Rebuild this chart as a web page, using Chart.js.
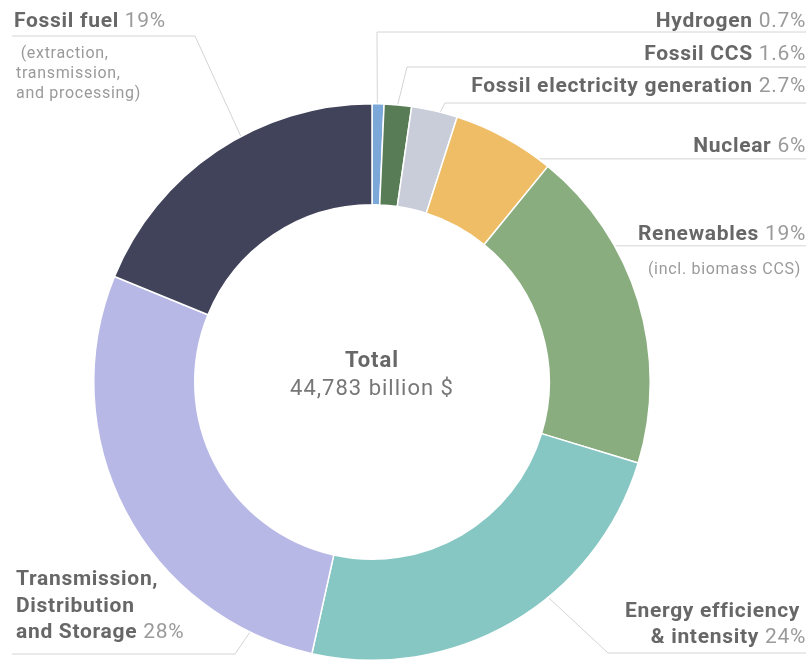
<!DOCTYPE html>
<html>
<head>
<meta charset="utf-8">
<script src="https://cdn.jsdelivr.net/npm/chart.js@4.4.1/dist/chart.umd.min.js"></script>
<style>
  html, body { margin: 0; padding: 0; background: #fff; }
  #wrap { position: relative; width: 812px; height: 664px; }
</style>
</head>
<body>
<div id="wrap"><canvas id="chart"></canvas></div>
<script>
// Data (share of total investment, %)
const categories = [
  'Hydrogen', 'Fossil CCS', 'Fossil electricity generation', 'Nuclear',
  'Renewables', 'Energy efficiency & intensity',
  'Transmission, Distribution and Storage', 'Fossil fuel'
];
const shares = [0.7, 1.6, 2.7, 6, 19, 24, 28, 19];
const sliceColors = [
  '#7ba7d9', '#587d56', '#c9cdd9', '#eebd66',
  '#89ad7e', '#86c7c4', '#b8b8e6', '#41435a'
];
const totalTitle = 'Total';
const totalText = '44,783 billion $';

// Callout layout (label text, placement and leader line geometry)
const callouts = [
  { idx: 0, side: 'right', x: 806, name: ['Hydrogen'], base: [27], note: [], noteBase: [], angle: 1.1, elbow: [377, 32] },
  { idx: 1, side: 'right', x: 806, name: ['Fossil CCS'], base: [60], note: [], noteBase: [], angle: 5.3, elbow: [407, 67] },
  { idx: 2, side: 'right', x: 806, name: ['Fossil electricity generation'], base: [92], note: [], noteBase: [], angle: 14.2, elbow: [445, 103] },
  { idx: 3, side: 'right', x: 806, name: ['Nuclear'], base: [152], note: [], noteBase: [], angle: 36.7, elbow: null },
  { idx: 4, side: 'right', x: 806, name: ['Renewables'], base: [240], note: ['(incl. biomass CCS)'], noteBase: [274], noteX: 801, angle: 60.7, elbow: null },
  { idx: 5, side: 'right', x: 806, name: ['Energy efficiency ', '& intensity'], base: [617, 643], note: [], noteBase: [], angle: 140.7, elbow: [608, 653] },
  { idx: 6, side: 'left', x: 16, name: ['Transmission,', 'Distribution', 'and Storage'], base: [585, 612, 638], note: [], noteBase: [], angle: 206, elbow: [235, 654] },
  { idx: 7, side: 'left', x: 14, name: ['Fossil fuel'], base: [27], note: [' (extraction,', 'transmission,', 'and processing)'], noteBase: [58, 78, 98], noteX: 16, angle: 331.9, elbow: [195, 36] }
];

const nameFont = 'bold 21px Roboto';
const pctFont = '21px Roboto';
const noteFont = '16px Roboto';
const labelSpacing = '0.7px';
const noteSpacing = '0.7px';
const nameColor = '#676767';
const pctColor = '#9a9a9a';
const lineColor = '#d4d4d4';

function ringPoint(chart, deg) {
  var arc = chart.getDatasetMeta(0).data[0];
  var a = (deg - 90) * Math.PI / 180;
  return { x: arc.x + arc.outerRadius * Math.cos(a), y: arc.y + arc.outerRadius * Math.sin(a) };
}

const leaderLines = {
  id: 'leaderLines',
  beforeDatasetsDraw(chart) {
    var ctx = chart.ctx;
    ctx.save();
    ctx.strokeStyle = lineColor;
    ctx.lineWidth = 1;
    callouts.forEach(function (c) {
      var p = ringPoint(chart, c.angle);
      var e = c.elbow ? { x: c.elbow[0], y: c.elbow[1] } : p;
      var endX = c.side === 'right' ? 806 : 12;
      ctx.beginPath();
      ctx.moveTo(p.x, p.y);
      ctx.lineTo(e.x, e.y);
      ctx.lineTo(endX, e.y);
      ctx.stroke();
    });
    ctx.restore();
  }
};

const calloutText = {
  id: 'calloutText',
  afterDatasetsDraw(chart) {
    var ctx = chart.ctx;
    ctx.save();
    ctx.textBaseline = 'alphabetic';
    ctx.letterSpacing = labelSpacing;
    callouts.forEach(function (c) {
      var pct = ' ' + shares[c.idx] + '%';
      ctx.letterSpacing = labelSpacing;
      c.name.forEach(function (line, i) {
        var last = i === c.name.length - 1;
        var y = c.base[i];
        ctx.font = nameFont;
        var nw = ctx.measureText(line).width;
        ctx.font = pctFont;
        var pw = last ? ctx.measureText(pct).width : 0;
        var left = c.side === 'right' ? c.x - nw - pw : c.x;
        ctx.textAlign = 'left';
        ctx.font = nameFont;
        ctx.fillStyle = nameColor;
        ctx.fillText(line, left, y);
        if (last) {
          ctx.font = pctFont;
          ctx.fillStyle = pctColor;
          ctx.fillText(pct, left + nw, y);
        }
      });
      ctx.font = noteFont;
      ctx.letterSpacing = noteSpacing;
      ctx.fillStyle = pctColor;
      c.note.forEach(function (line, i) {
        ctx.textAlign = c.side === 'right' ? 'right' : 'left';
        ctx.fillText(line, c.noteX, c.noteBase[i]);
      });
    });

    // total in the hole
    var arc = chart.getDatasetMeta(0).data[0];
    ctx.textAlign = 'center';
    ctx.letterSpacing = '1px';
    ctx.font = 'bold 22px Roboto';
    ctx.fillStyle = '#676767';
    ctx.fillText(totalTitle, arc.x, 367);
    ctx.font = '22px Roboto';
    ctx.fillStyle = '#777777';
    ctx.fillText(totalText, arc.x, 395);
    ctx.restore();
  }
};

new Chart(document.getElementById('chart'), {
  type: 'doughnut',
  data: {
    labels: categories,
    datasets: [{
      data: shares,
      backgroundColor: sliceColors,
      borderColor: '#ffffff',
      borderWidth: 1.5,
      hoverOffset: 0
    }]
  },
  options: {
    responsive: true,
    maintainAspectRatio: false,
    animation: false,
    cutout: '63.7%',
    layout: { padding: { left: 93, right: 161, top: 103, bottom: 3 } },
    plugins: {
      legend: { display: false },
      tooltip: { enabled: false }
    }
  },
  plugins: [leaderLines, calloutText]
});
</script>
</body>
</html>
